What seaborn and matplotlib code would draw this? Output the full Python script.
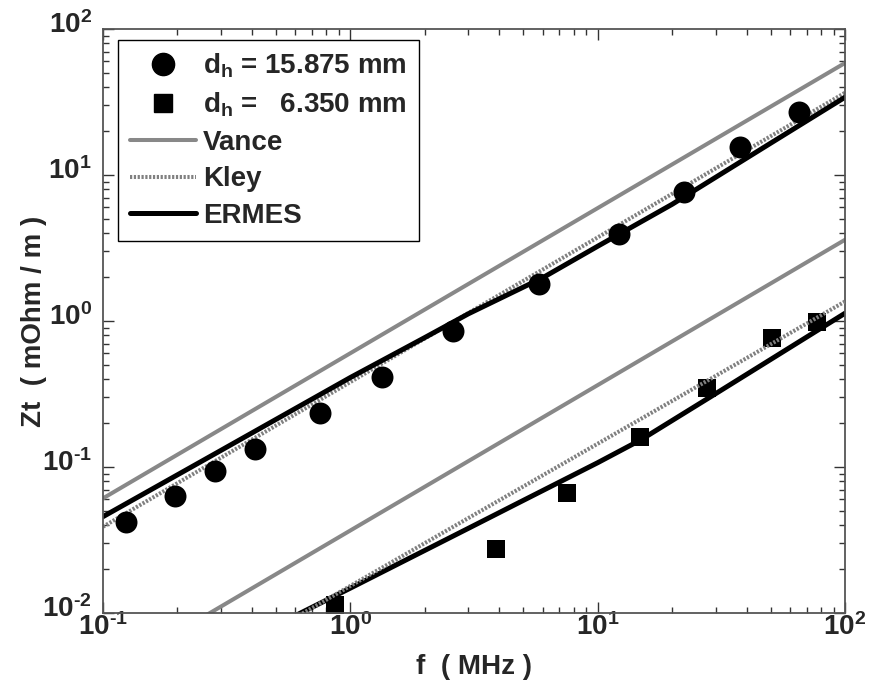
import numpy as np
import pandas as pd
import matplotlib
matplotlib.use("Agg")
import matplotlib.pyplot as plt
import matplotlib.transforms as mtransforms
import seaborn as sns
from matplotlib.lines import Line2D
from matplotlib.ticker import LogLocator, FuncFormatter, NullFormatter

# ---------------- data ----------------
f_large = [0.1235, 0.195, 0.284, 0.413, 0.751, 1.347, 2.594, 5.81, 12.17, 22.3, 37.8, 65.4]
zt_large = [0.0418, 0.0636, 0.0939, 0.133, 0.234, 0.411, 0.859, 1.79, 3.93, 7.65, 15.5, 26.9]

f_small = [0.867, 3.88, 7.52, 14.8, 27.8, 50.7, 77.3]
zt_small = [0.0113, 0.0273, 0.0667, 0.161, 0.349, 0.762, 0.989]

f_vance_large = [0.1, 100]
vance_large = [0.061, 58.5]
f_vance_small = [0.2, 100]
vance_small = [0.0074, 3.6]

f_kley_large = [0.1, 100]
kley_large = [0.039, 36.6]
f_kley_small = [0.5, 100]
kley_small = [0.0078, 1.36]

f_ermes_large = [0.1, 0.3, 1, 2, 3, 6, 10, 20, 50, 100]
ermes_large = [0.0457, 0.13, 0.41, 0.77, 1.12, 1.98, 3.25, 6.3, 16.5, 34.1]
f_ermes_small = [0.6, 1, 3, 5, 10, 15, 30, 100]
ermes_small = [0.0096, 0.0148, 0.038, 0.059, 0.107, 0.154, 0.318, 1.13]

legend_labels = [r"$\mathbf{d_h}$ = 15.875 mm", r"$\mathbf{d_h}$ =   6.350 mm",
                 "Vance", "Kley", "ERMES"]
x_label = "f  ( MHz )"
y_label = "Zt  ( mOhm / m )"

# ---------------- style ----------------
sns.set_style("white")
plt.rcParams["font.family"] = ["Liberation Sans", "DejaVu Sans"]
plt.rcParams["mathtext.fontset"] = "custom"
plt.rcParams["mathtext.rm"] = "Liberation Sans:bold"
plt.rcParams["mathtext.bf"] = "Liberation Sans:bold"
plt.rcParams["mathtext.it"] = "Liberation Sans:bold"

GRAY = "#888888"
FS = 20
KLEY_DASH = (0, (0.55, 0.4))

fig = plt.figure(figsize=(8.7, 6.96), dpi=100)
ax = fig.add_axes([103 / 870, 1 - 613 / 696, 742 / 870, 584 / 696])

def line(fx, fy, **kw):
    df = pd.DataFrame({"f": fx, "z": fy})
    sns.lineplot(data=df, x="f", y="z", ax=ax, estimator=None, sort=False, **kw)

line(f_vance_large, vance_large, color=GRAY, lw=2.9, zorder=2)
line(f_vance_small, vance_small, color=GRAY, lw=2.9, zorder=2)
line(f_kley_large, kley_large, color="#808080", lw=2.9, zorder=2)
line(f_kley_small, kley_small, color="#808080", lw=2.9, zorder=3)
line(f_ermes_large, ermes_large, color="black", lw=3.6, zorder=2)
line(f_ermes_small, ermes_small, color="black", lw=3.6, zorder=2)

for ln in ax.get_lines()[2:4]:
    ln.set_linestyle(KLEY_DASH)

sns.scatterplot(x=f_large, y=zt_large, ax=ax, marker="o", s=250, color="black",
                edgecolor="black", linewidth=0, zorder=4)
sns.scatterplot(x=f_small, y=zt_small, ax=ax, marker="s", s=170, color="black",
                edgecolor="black", linewidth=0, zorder=2.5)

ax.set_xscale("log")
ax.set_yscale("log")
ax.set_xlim(0.1, 100)
ax.set_ylim(0.01, 100)

def fmt(v, pos):
    e = int(round(np.log10(v)))
    s = str(e).replace("-", "\u2010")
    return "$\\mathbf{10^{%s}}$" % s

ax.xaxis.set_major_locator(LogLocator(base=10, numticks=10))
ax.yaxis.set_major_locator(LogLocator(base=10, numticks=10))
ax.xaxis.set_minor_locator(LogLocator(base=10, subs=np.arange(2, 10), numticks=20))
ax.yaxis.set_minor_locator(LogLocator(base=10, subs=np.arange(2, 10), numticks=20))
ax.xaxis.set_major_formatter(FuncFormatter(fmt))
ax.yaxis.set_major_formatter(FuncFormatter(fmt))
ax.xaxis.set_minor_formatter(NullFormatter())
ax.yaxis.set_minor_formatter(NullFormatter())

ax.tick_params(which="both", direction="in", top=True, right=True,
               bottom=True, left=True, color="#333333", width=1)
ax.tick_params(which="major", length=8, labelsize=FS)
ax.tick_params(which="minor", length=4.5)
ax.tick_params(axis="x", which="major", pad=0.5)
ax.tick_params(axis="y", which="major", pad=8)

offset = mtransforms.ScaledTranslation(0, 0.07, fig.dpi_scale_trans)
for lab in ax.get_yticklabels():
    lab.set_transform(lab.get_transform() + offset)

for sp in ax.spines.values():
    sp.set_color("#555555")
    sp.set_linewidth(1.3)

ax.set_xlabel(x_label, fontsize=FS, fontweight="bold", labelpad=9)
ax.set_ylabel(y_label, fontsize=FS, fontweight="bold", labelpad=-4)

handles = [
    Line2D([], [], ls="", marker="o", color="black", markersize=16),
    Line2D([], [], ls="", marker="s", color="black", markersize=13),
    Line2D([], [], color=GRAY, lw=2.9),
    Line2D([], [], color="#808080", lw=2.9, ls=KLEY_DASH),
    Line2D([], [], color="black", lw=3.6),
]
leg = ax.legend(handles, legend_labels, loc="upper left",
                bbox_to_anchor=(15 / 742, 1 - 11 / 584), borderaxespad=0,
                prop={"weight": "bold", "size": FS}, frameon=True, fancybox=False,
                handlelength=2.4, handletextpad=0.25, labelspacing=0.38,
                borderpad=0.42)
leg.get_frame().set_edgecolor("black")
leg.get_frame().set_linewidth(1.0)
leg.get_frame().set_alpha(1)

fig.savefig("out.png", dpi=100, facecolor="white")
